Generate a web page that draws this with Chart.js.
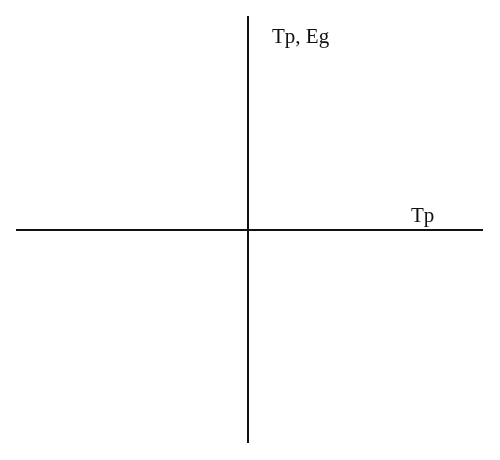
<!DOCTYPE html>
<html>
<head>
<meta charset="utf-8">
<script src="https://cdn.jsdelivr.net/npm/chart.js@4"></script>
<style>
  html, body { margin: 0; padding: 0; background: #fff; }
  #wrap { width: 500px; height: 460px; }
</style>
</head>
<body>
<div id="wrap"><canvas id="axesChart"></canvas></div>
<script>
// Axis extents (arbitrary units, origin at the crossing)
const xRange = [-232, 235];
const yRange = [-213, 214];

// Axis lines as data points
const horizontalAxis = [{ x: -232, y: 0 }, { x: 235, y: 0 }];
const verticalAxis = [{ x: 0, y: -213 }, { x: 0, y: 214 }];

// Axis labels and their anchor points
const labelTexts = ['Tp, Eg', 'Tp'];
const labelX = [24, 163];
const labelY = [187, 8];

const axisLabels = {
    id: 'axisLabels',
    afterDatasetsDraw(chart) {
        const ctx = chart.ctx;
        const xs = chart.scales.x;
        const ys = chart.scales.y;
        ctx.save();
        ctx.fillStyle = '#111';
        ctx.font = '21px "Liberation Serif", serif';
        ctx.textAlign = 'left';
        ctx.textBaseline = 'alphabetic';
        labelTexts.forEach(function(t, i) {
            ctx.fillText(t, xs.getPixelForValue(labelX[i]), ys.getPixelForValue(labelY[i]));
        });
        ctx.restore();
    }
};

document.addEventListener("DOMContentLoaded", function() {
    const ctx = document.getElementById('axesChart');
    new Chart(ctx, {
        type: 'scatter',
        data: {
            datasets: [
                {
                    data: horizontalAxis,
                    showLine: true,
                    borderColor: '#111',
                    borderWidth: 2,
                    pointRadius: 0
                },
                {
                    data: verticalAxis,
                    showLine: true,
                    borderColor: '#111',
                    borderWidth: 2,
                    pointRadius: 0
                }
            ]
        },
        options: {
            responsive: true,
            maintainAspectRatio: false,
            animation: false,
            layout: { padding: { left: 16, right: 17, top: 16, bottom: 17 } },
            plugins: {
                legend: { display: false },
                tooltip: { enabled: false }
            },
            scales: {
                x: { type: 'linear', display: false, min: xRange[0], max: xRange[1] },
                y: { type: 'linear', display: false, min: yRange[0], max: yRange[1] }
            }
        },
        plugins: [axisLabels]
    });
});
</script>
</body>
</html>
